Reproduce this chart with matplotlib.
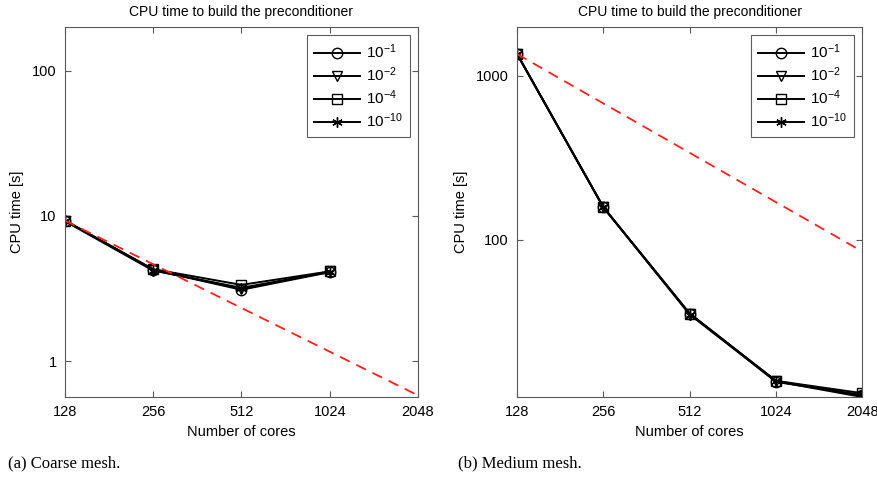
import matplotlib
matplotlib.use("Agg")
import matplotlib.pyplot as plt
from matplotlib.ticker import FixedLocator, FixedFormatter, NullLocator

cores_a = [128, 256, 512, 1024]
cores_b = [128, 256, 512, 1024, 2048]
xticks = [128, 256, 512, 1024, 2048]
xtick_labels = ["128", "256", "512", "1024", "2048"]

labels = [r"$10^{-1}$", r"$10^{-2}$", r"$10^{-4}$", r"$10^{-10}$"]
markers = ["o", "v", "s", (6, 2, 0)]

coarse = [
    [9.3, 4.25, 3.10, 4.10],
    [9.3, 4.25, 3.15, 4.15],
    [9.3, 4.30, 3.35, 4.15],
    [9.2, 4.20, 3.20, 4.10],
]
medium = [
    [1360, 158, 35.5, 13.6, 11.3],
    [1360, 158, 35.5, 13.8, 11.2],
    [1360, 158, 35.5, 13.8, 11.6],
    [1360, 158, 35.0, 13.7, 11.0],
]
ideal_x = [128, 2048]
ideal_a = [9.3, 0.58]
ideal_b = [1360, 85]

plt.rcParams["font.family"] = ["Liberation Sans", "DejaVu Sans"]
plt.rcParams["mathtext.fontset"] = "custom"
plt.rcParams["mathtext.rm"] = "Liberation Sans"
plt.rcParams["mathtext.it"] = "Liberation Sans"

fig = plt.figure(figsize=(8.78, 4.78), dpi=100)
axa = fig.add_axes([0.074, 0.1695, 0.402, 0.774])
axb = fig.add_axes([0.589, 0.1695, 0.393, 0.774])

spine_c = "0.35"

def style(ax, ylim, yticks, ylabels):
    ax.set_xscale("log", base=2)
    ax.set_yscale("log")
    ax.set_xlim(128, 2048)
    ax.set_ylim(*ylim)
    ax.xaxis.set_major_locator(FixedLocator(xticks))
    ax.xaxis.set_major_formatter(FixedFormatter(xtick_labels))
    ax.xaxis.set_minor_locator(NullLocator())
    ax.yaxis.set_major_locator(FixedLocator(yticks))
    ax.yaxis.set_major_formatter(FixedFormatter(ylabels))
    ax.yaxis.set_minor_locator(NullLocator())
    ax.tick_params(direction="in", top=True, right=True, length=4,
                   color=spine_c, labelsize=10.5, pad=6)
    for s in ax.spines.values():
        s.set_color(spine_c)
        s.set_linewidth(0.8)
    ax.set_title("CPU time to build the preconditioner", fontsize=10, pad=8)
    ax.set_xlabel("Number of cores", fontsize=10.5, labelpad=4)
    ax.set_ylabel("CPU time [s]", fontsize=10.5, labelpad=6)

for ys, m, lab in zip(coarse, markers, labels):
    axa.plot(cores_a, ys, color="black", lw=1.4, marker=m, mfc="none",
             mec="black", ms=7.5, mew=1.0, label=lab)
axa.plot(ideal_x, ideal_a, color="#ff2020", lw=1.3, ls=(0, (6, 4)))
style(axa, (0.565, 201), [1, 10, 100], ["1", "10", "100"])

for ys, m, lab in zip(medium, markers, labels):
    axb.plot(cores_b, ys, color="black", lw=1.4, marker=m, mfc="none",
             mec="black", ms=7.5, mew=1.0, label=lab)
axb.plot(ideal_x, ideal_b, color="#ff2020", lw=1.3, ls=(0, (6, 4)))
style(axb, (11.0, 1990), [100, 1000], ["100", "1000"])

for ax in (axa, axb):
    leg = ax.legend(loc="upper right", fontsize=11, frameon=True, fancybox=False,
                    edgecolor="0.2", handlelength=3.0, handletextpad=0.4,
                    borderpad=0.45, labelspacing=0.3, borderaxespad=0.55)
    leg.get_frame().set_linewidth(0.8)

fig.text(8 / 878, 1 - 463 / 478, "(a) Coarse mesh.", fontsize=12,
         family="Liberation Serif", va="center", ha="left")
fig.text(458 / 878, 1 - 463 / 478, "(b) Medium mesh.", fontsize=12,
         family="Liberation Serif", va="center", ha="left")

fig.savefig("out.png", dpi=100)
